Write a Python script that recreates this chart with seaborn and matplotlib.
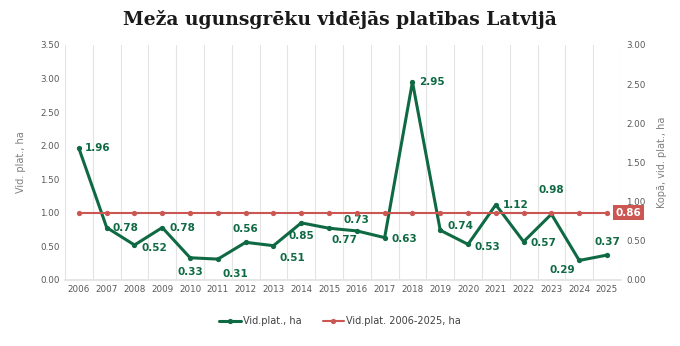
import matplotlib
matplotlib.use("Agg")
import matplotlib.pyplot as plt
import seaborn as sns
import pandas as pd
import numpy as np

years = [str(y) for y in range(2006, 2026)]
values = [1.96, 0.78, 0.52, 0.78, 0.33, 0.31, 0.56, 0.51, 0.85, 0.77,
          0.73, 0.63, 2.95, 0.74, 0.53, 1.12, 0.57, 0.98, 0.29, 0.37]
avg_value = 0.86
avg_values = [avg_value] * len(years)

GREEN = "#0f6a44"
RED = "#cc5652"
GRID = "#e3e3e3"
TXT = "#595959"

sns.set_theme(style="white")
plt.rcParams['font.family'] = ['DejaVu Sans']

df = pd.DataFrame({"x": np.arange(len(years)), "v": values, "a": avg_values})

fig = plt.figure(figsize=(6.8, 3.46), dpi=100)
ax = fig.add_axes([0.0956, 0.191, 0.8175, 0.679])
ax2 = ax.twinx()

sns.lineplot(data=df, x="x", y="v", ax=ax, color=GREEN, linewidth=2.2,
             marker="o", markersize=3.8, markeredgewidth=0, label="Vid.plat., ha", legend=False)
sns.lineplot(data=df, x="x", y="a", ax=ax2, color=RED, linewidth=1.5,
             marker="o", markersize=3.8, markeredgewidth=0, label="Vid.plat. 2006-2025, ha", legend=False)

ax.set_xlim(-0.5, len(years) - 0.5)
ax.set_ylim(0, 3.5)
ax2.set_ylim(0, 3.0)
ax.set_yticks(np.arange(0, 3.51, 0.5))
ax.set_yticklabels([f"{t:.2f}" for t in np.arange(0, 3.51, 0.5)])
ax2.set_yticks(np.arange(0, 3.01, 0.5))
ax2.set_yticklabels([f"{t:.2f}" for t in np.arange(0, 3.01, 0.5)])
ax.set_xticks(np.arange(len(years)))
ax.set_xticklabels(years)
ax.set_xticks(np.arange(-0.5, len(years), 1.0), minor=True)
ax.grid(which="minor", axis="x", color=GRID, linewidth=0.8)
ax.grid(which="major", visible=False)
ax2.grid(False)
for a in (ax, ax2):
    for s in a.spines.values():
        s.set_visible(False)
    a.tick_params(axis="both", which="both", length=0, labelsize=6.3, colors=TXT, pad=4)
ax.spines["bottom"].set_visible(True)
ax.spines["bottom"].set_color(GRID)
ax.set_xlabel("")
ax.set_ylabel("Vid. plat., ha", fontsize=7, color="#7f7f7f", labelpad=10)
ax2.set_ylabel("Kopā, vid. plat., ha", fontsize=7, color="#7f7f7f", labelpad=8, rotation=90)
ax2.yaxis.set_label_position("right")

# data label offsets (points)
offsets = {
    0: (4, 0, "left", "center"),
    1: (4, 0, "left", "center"),
    2: (5, -2, "left", "center"),
    3: (5, 0, "left", "center"),
    4: (0, -7, "center", "top"),
    5: (3, -7, "left", "top"),
    6: (0, 6, "center", "bottom"),
    7: (4, -5, "left", "top"),
    8: (0, -6, "center", "top"),
    9: (2, -5, "left", "top"),
    10: (0, 4, "center", "bottom"),
    11: (5, -1, "left", "center"),
    12: (5, 0, "left", "center"),
    13: (5, 3, "left", "center"),
    14: (5, -2, "left", "center"),
    15: (5, 0, "left", "center"),
    16: (5, -1, "left", "center"),
    17: (0, 14, "center", "bottom"),
    18: (-3, -3, "right", "top"),
    19: (0, 6, "center", "bottom"),
}
for i, v in enumerate(values):
    dx, dy, ha, va = offsets[i]
    ax.annotate(f"{v:.2f}", (i, v), xytext=(dx, dy), textcoords="offset points",
                ha=ha, va=va, fontsize=7.5, fontweight="bold", color=GREEN)

ax2.annotate(f"{avg_value:.2f}", (len(years) - 1, avg_value), xytext=(6, 0),
             textcoords="offset points", ha="left", va="center", fontsize=7.5,
             fontweight="bold", color="white",
             bbox=dict(boxstyle="square,pad=0.25", facecolor=RED, edgecolor="none"))

fig.suptitle("Meža ugunsgrēku vidējās platības Latvijā", x=0.5, y=0.97,
             fontsize=13.5, fontweight="bold", family=["DejaVu Serif"], color="#1a1a1a")

h1, l1 = ax.get_legend_handles_labels()
h2, l2 = ax2.get_legend_handles_labels()
fig.legend(h1 + h2, l1 + l2, loc="center", bbox_to_anchor=(0.5, 0.072), ncol=2,
           frameon=False, fontsize=7, handlelength=2.2, handletextpad=0.2,
           columnspacing=2.2, labelcolor="#404040")

fig.savefig("out.png", dpi=100)
